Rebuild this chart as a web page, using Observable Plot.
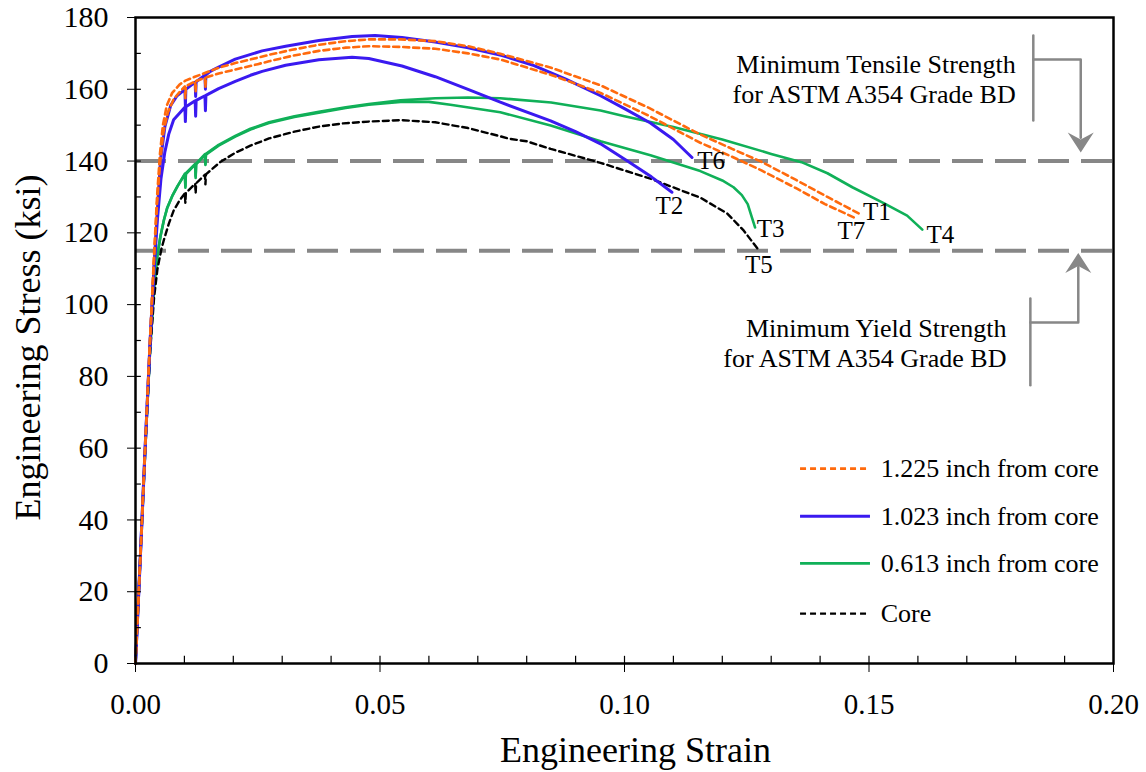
<!DOCTYPE html>
<html><head><meta charset="utf-8">
<script src="https://cdn.jsdelivr.net/npm/d3@7"></script>
<script src="https://cdn.jsdelivr.net/npm/@observablehq/plot@0.6"></script>
<style>body{margin:0;background:#fff;} svg{display:block}</style>
</head><body><div id="chart"></div>
<script>
// ---- data: [engineering strain, engineering stress (ksi)] ----
const T1 = [[0,0],[0.001,30],[0.002,61],[0.003,91],[0.0038,114],[0.0044,130],[0.005,142],[0.0056,150],[0.0064,155.5],[0.0075,159],[0.009,161.3],[0.0102,162.4],[0.012,163.4],[0.0143,164.6],[0.017,166],[0.0204,167.3],[0.025,168.8],[0.0273,169.6],[0.032,171],[0.0375,172.4],[0.043,173.4],[0.0477,173.9],[0.0542,173.9],[0.0613,173.4],[0.068,172],[0.0746,169.9],[0.085,166],[0.0951,161.1],[0.105,154.8],[0.1155,147.4],[0.122,143.4],[0.128,139.8],[0.135,134.8],[0.1415,130],[0.1479,125.4]];
const T7 = [[0,0],[0.001,30],[0.002,61],[0.003,91],[0.0038,113],[0.0044,128],[0.005,139],[0.0057,148],[0.0066,153.5],[0.0078,157.2],[0.009,159.2],[0.0101,160.8],[0.0102,157.5],[0.0103,160.9],[0.0122,162.2],[0.0123,159.2],[0.0124,162.3],[0.0142,163.2],[0.0143,160.5],[0.0144,163.3],[0.017,164.4],[0.0204,165.5],[0.025,167],[0.0273,167.8],[0.032,169.3],[0.0375,170.7],[0.043,171.6],[0.0477,172],[0.0542,171.8],[0.0613,171.3],[0.068,170],[0.0746,168.3],[0.085,164],[0.0951,159],[0.105,152.6],[0.1155,145.1],[0.122,141.2],[0.128,137.4],[0.135,132.5],[0.141,128],[0.1469,124.3]];
const T6 = [[0,0],[0.001,30],[0.002,61],[0.003,90],[0.0038,111],[0.0045,127],[0.0051,140],[0.006,149.5],[0.0072,155.5],[0.0085,158.2],[0.0101,159.9],[0.0102,155.5],[0.0103,160],[0.0122,162],[0.0123,158],[0.0124,162.1],[0.0142,163.9],[0.0143,160],[0.0144,164],[0.0153,165],[0.017,166.2],[0.0204,168.4],[0.0259,170.7],[0.0307,172],[0.0375,173.6],[0.0443,174.7],[0.049,175],[0.0545,174.4],[0.0613,173.2],[0.0678,171.6],[0.075,169.4],[0.0815,166.6],[0.088,162.8],[0.0951,158.2],[0.1,154.6],[0.1053,150.6],[0.11,146],[0.1138,141]];
const T2 = [[0,0],[0.001,30],[0.002,61],[0.003,90],[0.0038,110],[0.0045,124],[0.0052,135],[0.006,142.5],[0.0068,147.5],[0.0078,151.5],[0.0101,155],[0.0102,151],[0.0103,155.1],[0.0122,156.8],[0.0123,152.5],[0.0124,156.9],[0.0142,158.2],[0.0143,154],[0.0144,158.3],[0.017,160.2],[0.0204,162.2],[0.0235,163.9],[0.0259,165],[0.0307,166.7],[0.0375,168.2],[0.0443,168.9],[0.0477,168.6],[0.0545,166.5],[0.0613,163.5],[0.068,160],[0.0746,156.4],[0.0849,151.2],[0.09,148.2],[0.0951,144.8],[0.1006,140],[0.1055,135.6],[0.1097,131.3]];
const T3 = [[0,0],[0.001,30],[0.002,60],[0.003,88],[0.0038,105],[0.0045,114],[0.0051,119],[0.0058,123.5],[0.0065,127],[0.0075,130.2],[0.0086,133],[0.0101,136.3],[0.0102,132.6],[0.0103,136.4],[0.0122,139],[0.0123,135.3],[0.0124,139.1],[0.0142,141.7],[0.0143,138.9],[0.0144,141.8],[0.017,144.3],[0.0204,146.8],[0.0235,148.8],[0.0273,150.6],[0.0325,152.3],[0.0375,153.5],[0.043,154.8],[0.0477,155.7],[0.0542,156.5],[0.06,156.5],[0.0644,155.7],[0.0746,153.6],[0.0849,149.9],[0.0951,145.5],[0.1053,141.6],[0.1155,137.2],[0.12,134.6],[0.1223,132.7],[0.124,130.5],[0.1252,128],[0.126,124.5],[0.1267,121.5]];
const T4 = [[0,0],[0.001,30],[0.002,60],[0.003,88],[0.0038,105],[0.0045,114],[0.0051,119],[0.0058,123.5],[0.0065,127],[0.0075,130.2],[0.0086,133],[0.0101,136.5],[0.0102,133],[0.0103,136.6],[0.0122,139.2],[0.0123,135.8],[0.0124,139.3],[0.0142,141.9],[0.0143,139.2],[0.0144,142],[0.017,144.5],[0.0204,147],[0.0235,149],[0.0273,150.8],[0.0325,152.5],[0.0375,153.7],[0.043,155],[0.0477,155.9],[0.0542,156.9],[0.0613,157.5],[0.068,157.7],[0.0746,157.5],[0.085,156.3],[0.0951,154.1],[0.1,152.5],[0.11,149.5],[0.12,146],[0.13,142],[0.1362,139.7],[0.1415,136.6],[0.1466,132.7],[0.153,128.3],[0.1578,124.8],[0.1609,120.9]];
const T5 = [[0,0],[0.001,30],[0.002,60],[0.003,87],[0.0038,102],[0.0045,110],[0.0053,115.5],[0.0058,118],[0.0068,122.5],[0.0078,126.2],[0.009,129],[0.0101,131],[0.0102,128.3],[0.0103,131.1],[0.0122,133.7],[0.0123,131],[0.0124,133.8],[0.0142,136.2],[0.0143,133.5],[0.0144,136.3],[0.0174,139.8],[0.0204,142.3],[0.0235,144.3],[0.0273,146.3],[0.0325,148.2],[0.0375,149.6],[0.0425,150.5],[0.0477,151],[0.0545,151.4],[0.0613,150.8],[0.068,149.2],[0.0746,146.9],[0.0765,146.2],[0.08,145.5],[0.0849,143.4],[0.0951,139.5],[0.1053,135.1],[0.1155,129.8],[0.121,125.4],[0.1244,120.6],[0.1272,115.6]];

const groups = ["1.225 inch from core", "1.023 inch from core", "0.613 inch from core", "Core"];
const specimens = [
  {id: "T1", group: groups[0], data: T1},
  {id: "T7", group: groups[0], data: T7},
  {id: "T6", group: groups[1], data: T6},
  {id: "T2", group: groups[1], data: T2},
  {id: "T3", group: groups[2], data: T3},
  {id: "T4", group: groups[2], data: T4},
  {id: "T5", group: groups[3], data: T5}
];
// end-of-curve labels (strain, stress)
const labelIds = ["T1", "T7", "T4", "T3", "T5", "T2", "T6"];
const labelStrain = [0.1516, 0.1464, 0.1646, 0.1299, 0.1275, 0.1092, 0.1177];
const labelStress = [125.7, 120.4, 119.4, 121.2, 111.0, 127.6, 140.0];

const refStress = [140, 115]; // min tensile, min yield (ksi)
const refText = ["Minimum Tensile Strength\nfor ASTM A354 Grade BD", "Minimum Yield Strength\nfor ASTM A354 Grade BD"];

const xTicks = [0, 0.05, 0.10, 0.15, 0.20];
const xMinor = [0.01,0.02,0.03,0.04,0.05,0.06,0.07,0.08,0.09,0.10,0.11,0.12,0.13,0.14,0.15,0.16,0.17,0.18,0.19];
const yTicks = [0, 20, 40, 60, 80, 100, 120, 140, 160, 180];
const yMinor = [10,20,30,40,50,60,70,80,90,100,110,120,130,140,150,160,170];

// ---- styles ----
const styles = {
  "1.225 inch from core": {stroke: "#ff6a0d", strokeWidth: 2.6, dash: "6,4"},
  "1.023 inch from core": {stroke: "#3a1af0", strokeWidth: 3, dash: null},
  "0.613 inch from core": {stroke: "#10b058", strokeWidth: 2.6, dash: null},
  "Core": {stroke: "#000000", strokeWidth: 2.4, dash: "6,4"}
};
const grey = "#878787";

const rows = specimens.flatMap(s => s.data.map(([x, y]) => ({id: s.id, group: s.group, x, y})));
const labels = labelIds.map((t, i) => ({t, x: labelStrain[i], y: labelStress[i]}));

const drawOrder = ["0.613 inch from core", "Core", "1.023 inch from core", "1.225 inch from core"];
const curveMarks = drawOrder.map(g => Plot.line(rows.filter(r => r.group === g), {
  x: "x", y: "y", z: "id", stroke: styles[g].stroke, strokeWidth: styles[g].strokeWidth,
  strokeDasharray: styles[g].dash, strokeLinejoin: "round"
}));

// legend layout (data coords inside the frame)
const legendY = [54.3, 41.0, 27.9, 13.9];
const legendMarks = groups.flatMap((g, i) => [
  Plot.ruleY([legendY[i]], {x1: 0.136, x2: 0.1503, stroke: styles[g].stroke, strokeWidth: styles[g].strokeWidth, strokeDasharray: styles[g].dash}),
  Plot.text([g], {x: 0.1524, y: legendY[i], text: d => d, textAnchor: "start", lineAnchor: "middle", fontSize: 26, fill: "black"})
]);

// filled arrowheads (tip at the data point)
const headDown = {draw(ctx) { ctx.moveTo(0, 0); ctx.lineTo(-13, -20); ctx.lineTo(0, -13); ctx.lineTo(13, -20); ctx.closePath(); }};
const headUp = {draw(ctx) { ctx.moveTo(0, 0); ctx.lineTo(-13, 20); ctx.lineTo(0, 13); ctx.lineTo(13, 20); ctx.closePath(); }};

const chart = Plot.plot({
  width: 1146, height: 772,
  marginLeft: 135, marginRight: 33, marginTop: 17, marginBottom: 109,
  style: {fontFamily: "'Liberation Serif', 'Times New Roman', serif", background: "#fff", color: "#000"},
  x: {domain: [0, 0.2]},
  y: {domain: [0, 180]},
  marks: [
    Plot.ruleY(refStress, {stroke: grey, strokeWidth: 4, strokeDasharray: "31,12"}),
    ...curveMarks,
    Plot.text(labels, {x: "x", y: "y", text: "t", fontSize: 25, fill: "black", lineAnchor: "middle"}),
    // tensile annotation
    Plot.text([refText[0]], {x: 0.18, y: 156.3, text: d => d, textAnchor: "end", lineAnchor: "bottom", lineHeight: 1.154, fontSize: 26, fill: "black"}),
    Plot.line([[0.1836, 175], [0.1836, 151.3]], {stroke: grey, strokeWidth: 2.5}),
    Plot.line([[0.1836, 168.3], [0.1933, 168.3], [0.1933, 146.5]], {stroke: grey, strokeWidth: 2.5}),
    Plot.dot([[0.1933, 142.4]], {symbol: headDown, fill: grey, stroke: "none"}),
    // yield annotation
    Plot.text([refText[1]], {x: 0.1781, y: 82.75, text: d => d, textAnchor: "end", lineAnchor: "bottom", lineHeight: 1.154, fontSize: 26, fill: "black"}),
    Plot.line([[0.183, 101.7], [0.183, 77.5]], {stroke: grey, strokeWidth: 2.5}),
    Plot.line([[0.183, 95.0], [0.1928, 95.0], [0.1928, 110.5]], {stroke: grey, strokeWidth: 2.5}),
    Plot.dot([[0.1928, 114.4]], {symbol: headUp, fill: grey, stroke: "none"}),
    ...legendMarks,
    // inner minor ticks
    Plot.ruleX(xMinor, {y1: 0, y2: 2.0, stroke: "black", strokeWidth: 1.2}),
    Plot.ruleY(yMinor, {x1: 0, x2: 0.0012, stroke: "black", strokeWidth: 1.2}),
    Plot.axisX({ticks: xTicks, tickFormat: d3.format(".2f"), tickSize: 9, tickPadding: 21, fontSize: 29, label: null}),
    Plot.axisY({ticks: yTicks, tickSize: 8, tickPadding: 19, fontSize: 30, label: null}),
    Plot.frame({stroke: "black", strokeWidth: 2.5}),
    Plot.text(["Engineering Strain"], {frameAnchor: "bottom", dy: 98, dx: 11, text: d => d, textAnchor: "middle", lineAnchor: "bottom", fontSize: 36, fill: "black"}),
    Plot.text(["Engineering Stress (ksi)"], {frameAnchor: "left", rotate: -90, dx: -96, dy: 7, text: d => d, textAnchor: "middle", lineAnchor: "bottom", fontSize: 36, fill: "black"})
  ]
});
document.getElementById("chart").appendChild(chart);
</script>
</body></html>
